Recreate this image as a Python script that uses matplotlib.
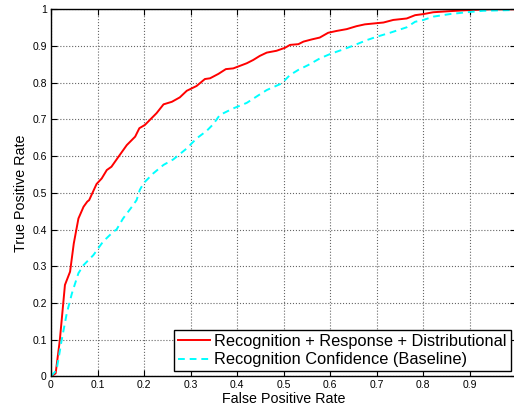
import numpy as np
import matplotlib.pyplot as plt

plt.rcParams['font.family'] = ['Liberation Sans', 'DejaVu Sans']

# Krzywa ROC: rozpoznawanie + odpowiedz + rozklad
fpr_full = [0.0, 0.010, 0.019, 0.030, 0.041, 0.049, 0.059, 0.070, 0.078, 0.082,
            0.098, 0.109, 0.120, 0.130, 0.145, 0.163, 0.181, 0.190, 0.202, 0.227,
            0.242, 0.260, 0.277, 0.292, 0.313, 0.331, 0.342, 0.360, 0.376, 0.392,
            0.421, 0.435, 0.449, 0.464, 0.485, 0.503, 0.514, 0.532, 0.543, 0.561,
            0.578, 0.596, 0.614, 0.636, 0.657, 0.675, 0.715, 0.736, 0.765, 0.783,
            0.801, 0.822, 0.858, 0.901, 0.944, 1.0]
tpr_full = [0.0, 0.008, 0.099, 0.249, 0.285, 0.362, 0.430, 0.462, 0.476, 0.480,
            0.524, 0.539, 0.562, 0.571, 0.598, 0.630, 0.653, 0.676, 0.685, 0.717,
            0.741, 0.748, 0.760, 0.778, 0.791, 0.810, 0.812, 0.824, 0.837, 0.839,
            0.853, 0.862, 0.873, 0.882, 0.887, 0.895, 0.903, 0.905, 0.912, 0.918,
            0.923, 0.936, 0.941, 0.946, 0.954, 0.959, 0.964, 0.971, 0.975, 0.984,
            0.987, 0.992, 0.995, 0.998, 1.0, 1.0]

# Krzywa ROC: tylko pewnosc rozpoznawania (baseline)
fpr_base = [0.0, 0.012, 0.023, 0.034, 0.045, 0.059, 0.070, 0.091, 0.112, 0.134,
            0.141, 0.155, 0.174, 0.184, 0.191, 0.199, 0.220, 0.242, 0.263, 0.292,
            0.313, 0.335, 0.349, 0.363, 0.392, 0.421, 0.449, 0.464, 0.496, 0.514,
            0.532, 0.553, 0.578, 0.600, 0.629, 0.650, 0.679, 0.700, 0.729, 0.765,
            0.783, 0.801, 0.822, 0.858, 0.894, 0.930, 0.994, 1.0]
tpr_base = [0.0, 0.017, 0.099, 0.172, 0.226, 0.281, 0.303, 0.330, 0.367, 0.394,
            0.400, 0.430, 0.462, 0.480, 0.508, 0.526, 0.553, 0.576, 0.591, 0.621,
            0.648, 0.669, 0.687, 0.712, 0.730, 0.745, 0.768, 0.780, 0.798, 0.821,
            0.835, 0.848, 0.866, 0.878, 0.891, 0.901, 0.916, 0.925, 0.936, 0.951,
            0.966, 0.971, 0.980, 0.987, 0.992, 0.996, 0.998, 1.0]

label_full = 'Recognition + Response + Distributional'
label_base = 'Recognition Confidence (Baseline)'

fig = plt.figure(figsize=(5.14, 4.09), dpi=100)
ax = fig.add_axes([51 / 514, 32.7 / 409, 465 / 514, 367 / 409])

ax.plot(fpr_full, tpr_full, color='red', linewidth=1.4, label=label_full)
ax.plot(fpr_base, tpr_base, color='cyan', linestyle='--', dashes=(3.5, 2.5),
        linewidth=1.4, label=label_base)

ax.set_xlim(0, 1)
ax.set_ylim(0, 1)
ax.set_xticks(np.arange(0, 1.01, 0.1))
# etykieta "1" na osi X wypada poza obrazek
ax.set_xticklabels(['0', '0.1', '0.2', '0.3', '0.4', '0.5', '0.6', '0.7', '0.8', '0.9', ''])
ax.set_yticks(np.arange(0, 1.01, 0.1))
ax.set_yticklabels(['0', '0.1', '0.2', '0.3', '0.4', '0.5', '0.6', '0.7', '0.8', '0.9', '1'])
ax.tick_params(direction='in', top=True, right=True, labelsize=7.5, length=4, pad=3)
ax.grid(True, linestyle=':', color='#666666', linewidth=0.8)
for s in ax.spines.values():
    s.set_linewidth(1.0)

ax.set_xlabel('False Positive Rate', fontsize=10.3, labelpad=1)
ax.set_ylabel('True Positive Rate', fontsize=10.3, labelpad=3)

leg = ax.legend(loc='lower right', fontsize=11.8, fancybox=False, framealpha=1,
                edgecolor='black', handlelength=1.9, borderpad=0.25,
                labelspacing=0.2, handletextpad=0.3, borderaxespad=0.3)
leg.get_frame().set_linewidth(1.0)

fig.savefig('out.png', dpi=100)
